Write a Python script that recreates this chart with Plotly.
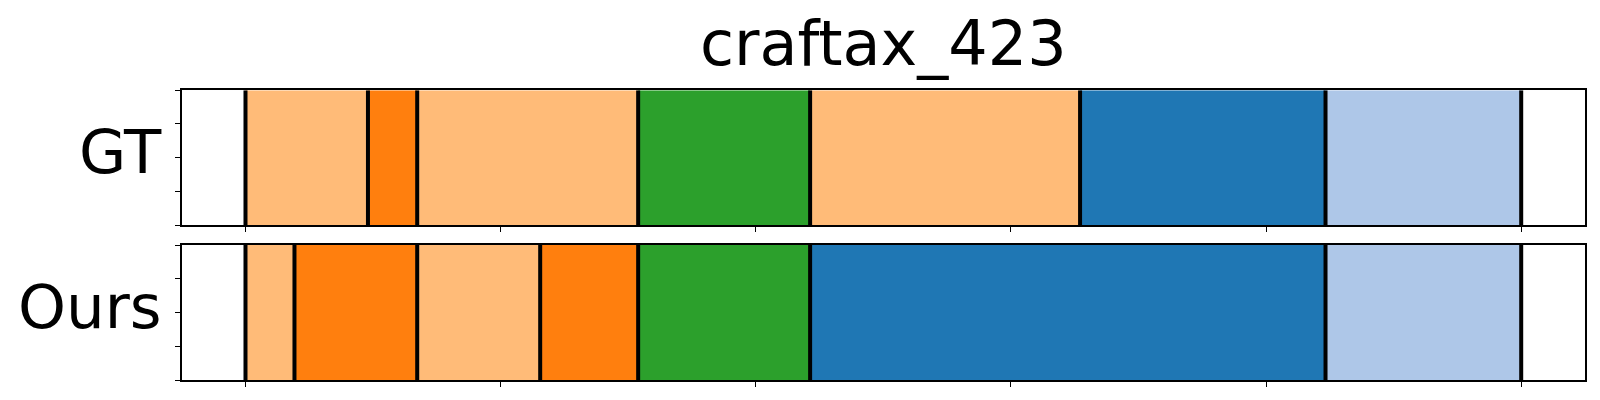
import plotly.graph_objects as go

title = "craftax_423"
row_labels = ["GT", "Ours"]

# segment boundaries (frame units) and segment colours per row
gt_bounds = [0, 48, 67.3, 153.9, 221.3, 327.1, 423.3, 500]
gt_colors = ["#ffbb78", "#ff7f0e", "#ffbb78", "#2ca02c", "#ffbb78", "#1f77b4", "#aec7e8"]
ours_bounds = [0, 19.2, 67.3, 115.5, 153.9, 221.3, 423.3, 500]
ours_colors = ["#ffbb78", "#ff7f0e", "#ffbb78", "#ff7f0e", "#2ca02c", "#1f77b4", "#aec7e8"]

x_ticks = [0, 100, 200, 300, 400, 500]
y_ticks = [0, 0.25, 0.5, 0.75, 1.0]

W, H = 1600, 400
x_dom = [181.7 / W, 1585 / W]
panels = [  # (top px, bottom px)
    (90.3, 225.0),
    (245.0, 380.0),
]

fig = go.Figure()
rows = [(gt_bounds, gt_colors), (ours_bounds, ours_colors)]
for i, (bounds, colors) in enumerate(rows):
    xa = "x" if i == 0 else f"x{i+1}"
    ya = "y" if i == 0 else f"y{i+1}"
    starts = bounds[:-1]
    lengths = [b - a for a, b in zip(bounds[:-1], bounds[1:])]
    fig.add_trace(go.Bar(
        orientation="h",
        x=lengths, base=starts, y=[0.5] * len(lengths), width=1.0,
        marker=dict(color=colors, line=dict(width=0)),
        xaxis=xa, yaxis=ya, showlegend=False, hoverinfo="skip",
    ))
    lx, ly = [], []
    for b in bounds:
        lx += [b, b, None]
        ly += [0, 1, None]
    fig.add_trace(go.Scatter(
        x=lx, y=ly, mode="lines", line=dict(color="black", width=4),
        xaxis=xa, yaxis=ya, showlegend=False, hoverinfo="skip",
    ))

axis_common = dict(
    showline=True, linecolor="black", linewidth=1.5, mirror=True,
    ticks="outside", ticklen=5, tickwidth=1, tickcolor="black",
    showticklabels=False, showgrid=False, zeroline=False, fixedrange=True,
)
layout = dict(
    width=W, height=H,
    margin=dict(l=0, r=0, t=0, b=0),
    paper_bgcolor="white", plot_bgcolor="white",
    barmode="overlay",
    font=dict(family="DejaVu Sans", color="black"),
)
for i, (top, bot) in enumerate(panels):
    xk = "xaxis" if i == 0 else f"xaxis{i+1}"
    yk = "yaxis" if i == 0 else f"yaxis{i+1}"
    ya = "y" if i == 0 else f"y{i+1}"
    xa = "x" if i == 0 else f"x{i+1}"
    layout[xk] = dict(domain=x_dom, range=[-25, 525], tickvals=x_ticks, anchor=ya, **axis_common)
    layout[yk] = dict(domain=[1 - bot / H, 1 - top / H], range=[0, 1], tickvals=y_ticks, anchor=xa, **axis_common)

annotations = []
for i, (top, bot) in enumerate(panels):
    annotations.append(dict(
        text=row_labels[i], xref="paper", yref="paper",
        x=164 / W, y=1 - ((top + bot) / 2 - 6) / H,
        xanchor="right", yanchor="middle", showarrow=False,
        font=dict(size=61, family="DejaVu Sans", color="black"),
    ))
annotations.append(dict(
    text=title, xref="paper", yref="paper",
    x=(x_dom[0] + x_dom[1]) / 2, y=1 - 44 / H,
    xanchor="center", yanchor="middle", showarrow=False,
    font=dict(size=62, family="DejaVu Sans", color="black"),
))
layout["annotations"] = annotations
fig.update_layout(**layout)
fig.write_html(
    "out.html",
    config={"displayModeBar": False},
    post_script="document.body.style.margin='0';document.body.style.overflow='hidden';",
)
